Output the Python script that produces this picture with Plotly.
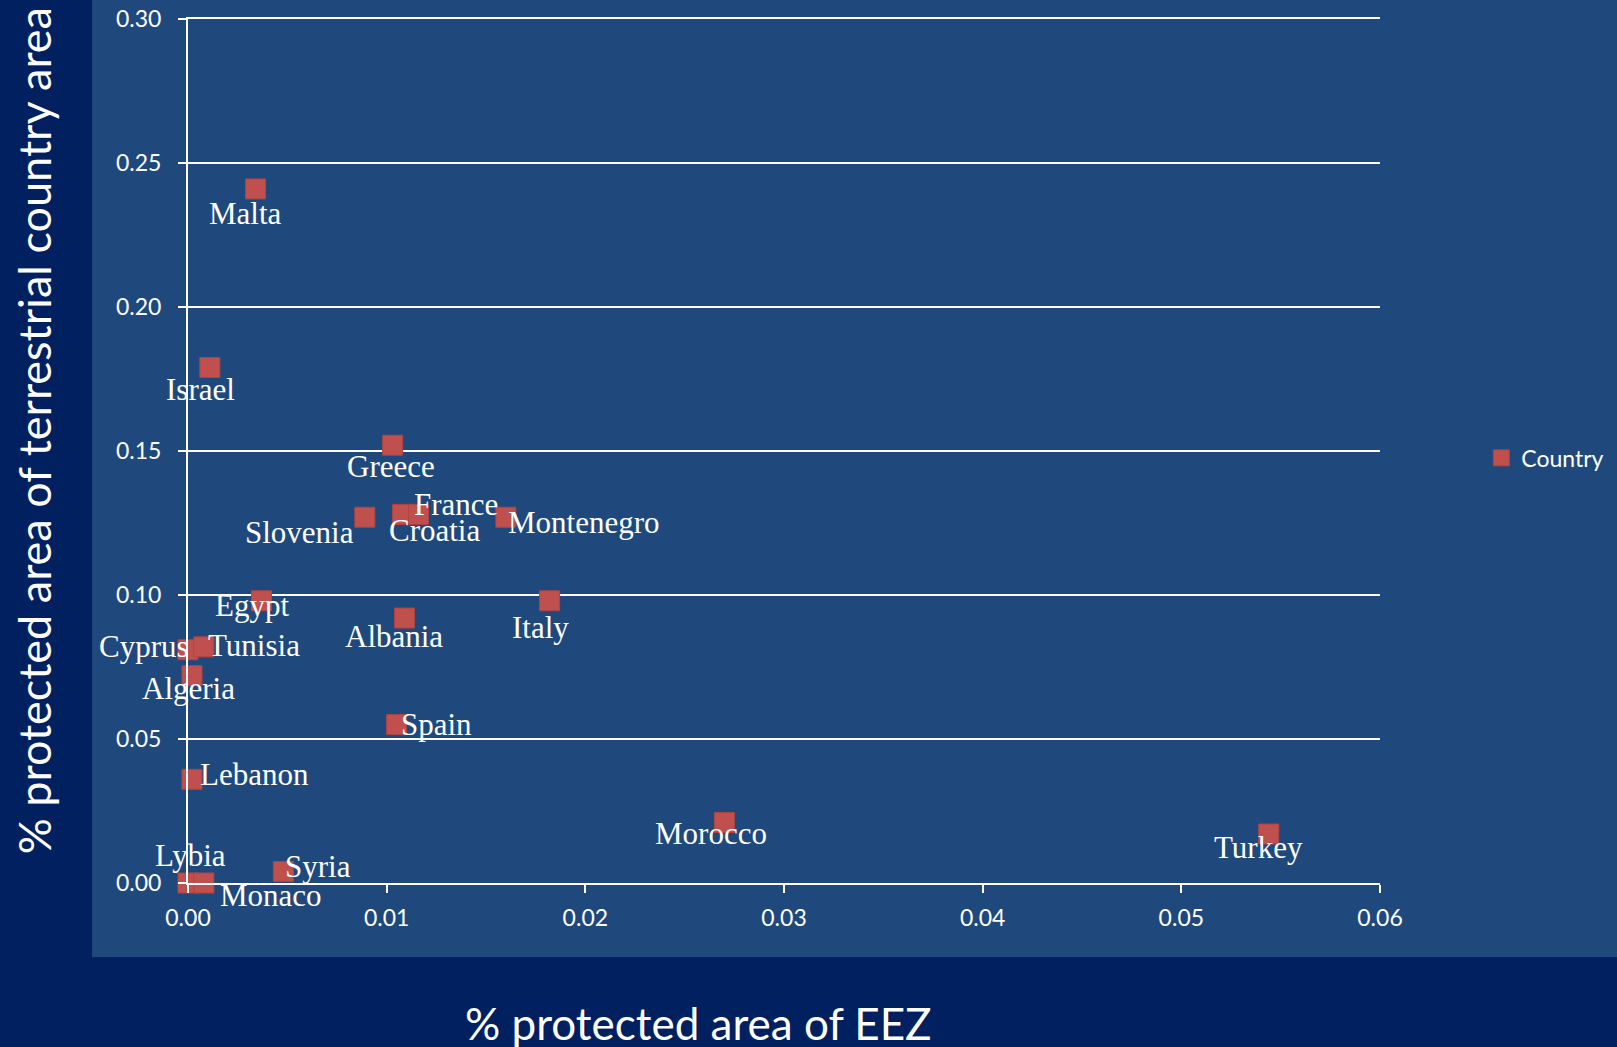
import plotly.graph_objects as go

# ---------------- data ----------------
countries = ["Malta", "Israel", "Greece", "Slovenia", "Croatia", "France", "Montenegro",
             "Egypt", "Italy", "Albania", "Cyprus", "Tunisia", "Algeria", "Spain",
             "Lebanon", "Morocco", "Turkey", "Lybia", "Syria", "Monaco"]
eez_share = [0.0034, 0.0011, 0.0103, 0.0089, 0.0108, 0.0116, 0.0160,
             0.0037, 0.0182, 0.0109, 0.0000, 0.0008, 0.0002, 0.0105,
             0.0002, 0.0270, 0.0544, 0.0000, 0.0048, 0.0008]
terrestrial_share = [0.241, 0.179, 0.152, 0.127, 0.128, 0.128, 0.127,
                     0.098, 0.098, 0.092, 0.081, 0.082, 0.072, 0.055,
                     0.036, 0.021, 0.017, 0.000, 0.004, 0.000]
series_name = "Country"
x_title = "% protected area of EEZ"
y_title = "% protected area of terrestrial country area"
x_ticks = [0.00, 0.01, 0.02, 0.03, 0.04, 0.05, 0.06]
y_ticks = [0.00, 0.05, 0.10, 0.15, 0.20, 0.25, 0.30]

# ---------------- styling ----------------
DARK = "#002060"
PANEL = "#1F497D"
MARK = "#C0504D"
WHITE = "#FFFFFF"
SANS = "Lato, 'Open Sans', sans-serif"
SERIF = "'Liberation Serif', 'Times New Roman', serif"

# label offsets (px) of each country label relative to its marker: (dx, dy down)
label_offsets = {
    "Malta": (-10, 25), "Israel": (-9, 22), "Greece": (-2, 21), "Slovenia": (-65, 15),
    "Croatia": (32, 16), "France": (38, -10), "Montenegro": (78, 5), "Egypt": (-10, 5),
    "Italy": (-9, 27), "Albania": (-11, 18), "Cyprus": (-44, -3), "Tunisia": (50, -1),
    "Algeria": (-3, 13), "Spain": (40, 0), "Lebanon": (63, -5), "Morocco": (-13, 11),
    "Turkey": (-10, 13), "Lybia": (2, -28), "Syria": (35, -5), "Monaco": (67, 12),
}

fig = go.Figure()
fig.add_trace(go.Scatter(
    x=eez_share, y=terrestrial_share, mode="markers", name=series_name,
    marker=dict(symbol="square", size=20, color=MARK, line=dict(color="#B04441", width=1)),
    cliponaxis=False, showlegend=True,
))

annotations = []
for c, xv, yv in zip(countries, eez_share, terrestrial_share):
    dx, dy = label_offsets[c]
    annotations.append(dict(
        x=xv, y=yv, xref="x", yref="y", text=c, showarrow=False,
        xanchor="center", yanchor="middle", xshift=dx, yshift=-dy,
        font=dict(family=SERIF, size=31, color=WHITE),
    ))

# axis titles
annotations.append(dict(
    x=0.428, y=-0.162, xref="paper", yref="paper", text=x_title, showarrow=False,
    xanchor="center", yanchor="middle", font=dict(family=SANS, size=44, color=WHITE)))
annotations.append(dict(
    x=-0.129, y=0.523, xref="paper", yref="paper", text=y_title, showarrow=False,
    textangle=-90, xanchor="center", yanchor="middle",
    font=dict(family=SANS, size=45, color=WHITE)))

fig.update_layout(
    width=1617, height=1047,
    paper_bgcolor=DARK, plot_bgcolor=PANEL,
    margin=dict(l=188, r=237, t=19, b=164, autoexpand=False),
    showlegend=True,
    legend=dict(x=1.085, y=0.492, xanchor="left", yanchor="middle",
                bgcolor="rgba(0,0,0,0)", font=dict(family=SANS, size=23, color=WHITE)),
    shapes=[dict(type="rect", xref="paper", yref="paper",
                 x0=-0.0805, x1=1.2, y0=-0.0856, y1=1.03,
                 fillcolor=PANEL, line=dict(width=0), layer="below")],
    annotations=annotations,
    xaxis=dict(range=[0, 0.06], tickvals=x_ticks, tickformat=".2f",
               showgrid=False, zeroline=False, showline=True, linecolor=WHITE, linewidth=2,
               mirror=True,
               ticks="outside", ticklen=8, tickcolor=WHITE, tickwidth=2,
               ticklabelstandoff=5,
               tickfont=dict(family=SANS, size=23, color=WHITE)),
    yaxis=dict(range=[0, 0.30], tickvals=y_ticks, tickformat=".2f",
               showgrid=True, gridcolor=WHITE, gridwidth=2, zeroline=False,
               showline=True, linecolor=WHITE, linewidth=2,
               ticks="outside", ticklen=8, tickcolor=WHITE, tickwidth=2,
               ticklabelstandoff=12,
               tickfont=dict(family=SANS, size=23, color=WHITE)),
)

fig.write_html(
    "out.html",
    config={"displayModeBar": False},
    post_script="document.body.style.margin='0';document.body.style.overflow='hidden';",
)
